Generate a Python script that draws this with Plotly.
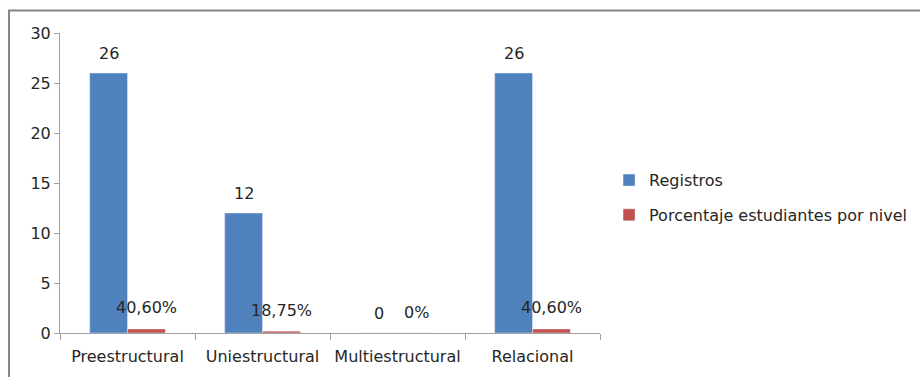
import plotly.graph_objects as go

categories = ["Preestructural", "Uniestructural", "Multiestructural", "Relacional"]
registros = [26, 12, 0, 26]
porcentaje = [0.406, 0.1875, 0, 0.406]
porcentaje_labels = ["40,60%", "18,75%", "0%", "40,60%"]
registros_labels = ["26", "12", "0", "26"]

BLUE = "#4F81BD"
RED = "#C0504D"
FONT = "DejaVu Sans"
TXT = "#262626"

fig = go.Figure()
fig.add_trace(go.Bar(x=categories, y=registros, name="Registros", marker_color=BLUE,
                     legend="legend", offsetgroup="a", showlegend=True))
fig.add_trace(go.Bar(x=categories, y=porcentaje, name="Porcentaje estudiantes por nivel",
                     marker_color=RED, legend="legend2", offsetgroup="b", showlegend=True))

annotations = []
for i, c in enumerate(categories):
    annotations.append(dict(x=c, y=registros[i], text=registros_labels[i], xref="x", yref="y",
                            showarrow=False, xshift=-19, yshift=20, yanchor="middle",
                            font=dict(family=FONT, size=16, color=TXT)))
    annotations.append(dict(x=c, y=porcentaje[i], text=porcentaje_labels[i], xref="x", yref="y",
                            showarrow=False, xshift=19, yshift=21, yanchor="middle",
                            font=dict(family=FONT, size=16, color=TXT)))

fig.update_layout(
    width=920, height=377,
    margin=dict(l=60, r=320, t=33, b=44, autoexpand=False),
    paper_bgcolor="white", plot_bgcolor="white",
    barmode="group", bargap=0.44, bargroupgap=0,
    showlegend=True,
    font=dict(family=FONT, size=16, color=TXT),
    annotations=annotations,
    legend=dict(xref="container", yref="container", x=0.662, y=0.522, xanchor="left",
                yanchor="middle", bgcolor="rgba(0,0,0,0)",
                font=dict(family=FONT, size=16, color=TXT), itemwidth=30),
    legend2=dict(xref="container", yref="container", x=0.662, y=0.43, xanchor="left",
                 yanchor="middle", bgcolor="rgba(0,0,0,0)",
                 font=dict(family=FONT, size=16, color=TXT), itemwidth=30),
    shapes=[dict(type="rect", xref="paper", yref="paper", x0=-0.0944, y0=-0.2, x1=1.8, y1=1.075,
                 line=dict(color="#868686", width=2), layer="below")],
)
fig.update_xaxes(showline=True, linecolor="#A0A0A0", linewidth=1, ticks="outside",
                 tickson="boundaries", ticklen=6, tickcolor="#A0A0A0", showgrid=False,
                 tickfont=dict(family=FONT, size=16, color=TXT), ticklabelstandoff=9,
                 tickangle=0)
fig.update_yaxes(range=[0, 30], dtick=5, showline=True, linecolor="#A0A0A0", linewidth=1,
                 ticks="outside", ticklen=5, tickcolor="#A0A0A0", showgrid=False, zeroline=False,
                 tickfont=dict(family=FONT, size=16, color=TXT))

fig.write_html("out.html")
